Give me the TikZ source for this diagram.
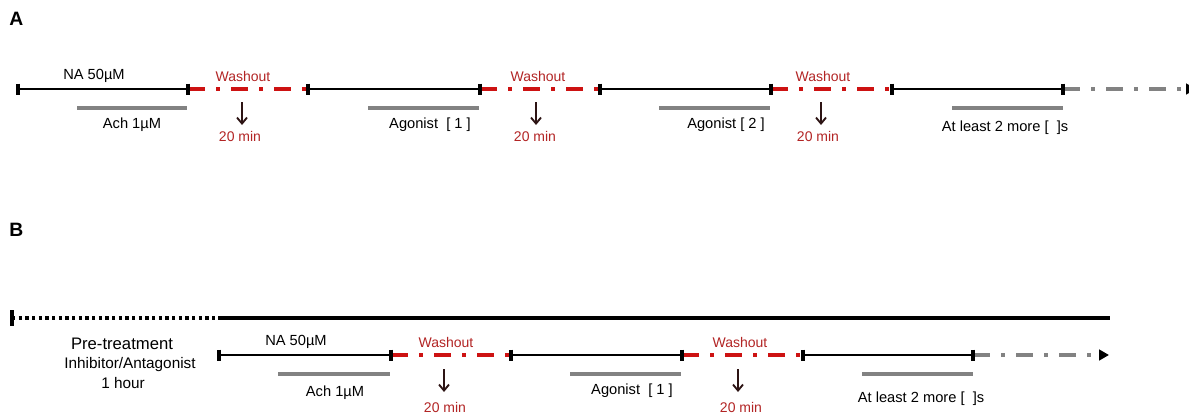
\documentclass[tikz,border=0pt]{standalone}
\usepackage{fontspec}
\setmainfont{Liberation Sans}
\usetikzlibrary{arrows.meta,calc}
\definecolor{wred}{RGB}{205,18,18}
\definecolor{wtxt}{RGB}{178,36,36}
\definecolor{bargrey}{RGB}{130,130,130}
\definecolor{arrdark}{RGB}{45,20,20}
\begin{document}
\begin{tikzpicture}[x=0.75pt,y=-0.75pt,
  tl/.style={line width=2.2pt,black},
  wash/.style={line width=2.8pt,wred,dash pattern=on 12.75pt off 8.25pt on 3pt off 8.25pt},
  cont/.style={line width=2.8pt,bargrey,dash pattern=on 12.75pt off 8.25pt on 3pt off 8.25pt,
     -{Triangle[color=black,length=7.5pt,width=8pt]}},
  gbar/.style={line width=2.8pt,bargrey},
  tk/.style={line width=2.8pt,black},
  lbl/.style={font=\fontsize{11}{13}\selectfont,inner sep=0pt,anchor=base},
  wlbl/.style={font=\fontsize{10.5}{12}\selectfont,inner sep=0pt,anchor=base,text=wtxt},
  panel/.style={font=\fontsize{14.5}{16}\selectfont\bfseries,inner sep=0pt,anchor=base west},
  darr/.style={line width=1.4pt,arrdark,-{Straight Barb[length=4.5pt,width=7.5pt]}},
]
\useasboundingbox (0,0) rectangle (1189,414);
% ---------------- Panel A ----------------
\node[panel] (labA) at (9,26) {A};
\foreach \n/\x in {a1/18,a2/188,a3/308,a4/480,a5/600,a6/771,a7/892,a8/1063}
  \coordinate (\n) at (\x,89);
\coordinate (aend) at (1196,89);
\draw[tl] (a1) -- (a2);
\draw[wash] (a2) -- (a3);
\draw[tl] (a3) -- (a4);
\draw[wash] (a4) -- (a5);
\draw[tl] (a5) -- (a6);
\draw[wash] (a6) -- (a7);
\draw[tl] (a7) -- (a8);
\draw[cont] (a8) -- (aend);
\foreach \n in {a1,a2,a3,a4,a5,a6,a7,a8}
  \draw[tk] ($(\n)+(0,-5.5)$) -- ($(\n)+(0,5.5)$);
% bars
\coordinate (ab1s) at (77,108);  \coordinate (ab1e) at (187,108);
\coordinate (ab2s) at (368,108); \coordinate (ab2e) at (479,108);
\coordinate (ab3s) at (659,108); \coordinate (ab3e) at (770,108);
\coordinate (ab4s) at (952,108); \coordinate (ab4e) at (1063,108);
\draw[gbar] (ab1s) -- (ab1e);
\draw[gbar] (ab2s) -- (ab2e);
\draw[gbar] (ab3s) -- (ab3e);
\draw[gbar] (ab4s) -- (ab4e);
% labels
\node[lbl] (aNA) at (94,79) {NA 50µM};
\node[lbl] (aAch) at (132,128) {Ach 1µM};
\node[lbl] (aAg1) at (430,128) {Agonist\ \ [ 1 ]};
\node[lbl] (aAg2) at (726,128) {Agonist [ 2 ]};
\node[lbl] (aMore) at (1005,131) {At least 2 more [\ \ ]s};
% washouts
\node[wlbl] (aw1) at (243,81) {Washout};
\node[wlbl] (aw2) at (538,81) {Washout};
\node[wlbl] (aw3) at (823,81) {Washout};
\node[wlbl] (am1) at (240,141) {20 min};
\node[wlbl] (am2) at (535,141) {20 min};
\node[wlbl] (am3) at (818,141) {20 min};
\coordinate (aar1s) at (242,102); \coordinate (aar1e) at (242,125);
\coordinate (aar2s) at (536,102); \coordinate (aar2e) at (536,125);
\coordinate (aar3s) at (821,102); \coordinate (aar3e) at (821,125);
\draw[darr] (aar1s) -- (aar1e);
\draw[darr] (aar2s) -- (aar2e);
\draw[darr] (aar3s) -- (aar3e);
% ---------------- Panel B ----------------
\node[panel] (labB) at (9,236) {B};
\coordinate (p0) at (12,318);
\coordinate (p1) at (218,318);
\coordinate (p2) at (1110,318);
\draw[line width=2.6pt,black,dash pattern=on 2.4pt off 2.6pt] (p0) -- (p1);
\draw[line width=2.6pt,black] (p1) -- (p2);
\draw[line width=3pt,black] ($(p0)+(0,-8)$) -- ($(p0)+(0,8)$);
\node[font=\fontsize{12.5}{14}\selectfont,inner sep=0pt,anchor=base] (pre) at (122,349) {Pre-treatment};
\node[font=\fontsize{11.5}{13}\selectfont,inner sep=0pt,anchor=base] (inh) at (130,368) {Inhibitor/Antagonist};
\node[font=\fontsize{11.5}{13}\selectfont,inner sep=0pt,anchor=base] (hr) at (123,388) {1 hour};
\foreach \n/\x in {b1/219,b2/391,b3/511,b4/682,b5/803,b6/973}
  \coordinate (\n) at (\x,355);
\coordinate (bend) at (1109,355);
\draw[tl] (b1) -- (b2);
\draw[wash] (b2) -- (b3);
\draw[tl] (b3) -- (b4);
\draw[wash] (b4) -- (b5);
\draw[tl] (b5) -- (b6);
\draw[cont] (b6) -- (bend);
\foreach \n in {b1,b2,b3,b4,b5,b6}
  \draw[tk] ($(\n)+(0,-5.5)$) -- ($(\n)+(0,5.5)$);
\coordinate (bb1s) at (278,374); \coordinate (bb1e) at (390,374);
\coordinate (bb2s) at (570,374); \coordinate (bb2e) at (681,374);
\coordinate (bb3s) at (862,374); \coordinate (bb3e) at (973,374);
\draw[gbar] (bb1s) -- (bb1e);
\draw[gbar] (bb2s) -- (bb2e);
\draw[gbar] (bb3s) -- (bb3e);
\node[lbl] (bNA) at (296,345) {NA 50µM};
\node[lbl] (bAch) at (335,396) {Ach 1µM};
\node[lbl] (bAg1) at (632,394) {Agonist\ \ [ 1 ]};
\node[lbl] (bMore) at (921,402) {At least 2 more [\ \ ]s};
\node[wlbl] (bw1) at (446,347) {Washout};
\node[wlbl] (bw2) at (740,347) {Washout};
\node[wlbl] (bm1) at (445,412) {20 min};
\node[wlbl] (bm2) at (741,412) {20 min};
\coordinate (bar1s) at (444,369); \coordinate (bar1e) at (444,392);
\coordinate (bar2s) at (738,369); \coordinate (bar2e) at (738,392);
\draw[darr] (bar1s) -- (bar1e);
\draw[darr] (bar2s) -- (bar2e);
\end{tikzpicture}
\end{document}
